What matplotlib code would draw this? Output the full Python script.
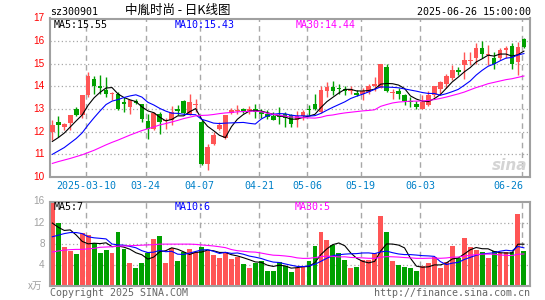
import matplotlib
matplotlib.use("Agg")
import matplotlib.pyplot as plt
import numpy as np

W, H = 545, 300

# daily candles, 2025-02-26 .. 2025-06-26
opens = [11.99, 12.43, 12.21, 12.38, 12.99, 12.72, 13.60, 14.31, 14.04, 13.85,
         13.68, 13.65, 13.31, 13.09, 13.35, 13.21, 12.47, 12.13, 12.79, 12.47,
         12.50, 13.01, 13.34, 12.76, 13.18, 12.43, 10.59, 11.44, 12.13, 11.74,
         12.82, 12.93, 12.99, 12.90, 12.99, 12.88, 12.79, 12.68, 12.72, 12.79,
         12.72, 12.53, 12.68, 13.00, 13.24, 12.87, 13.82, 13.97, 13.94, 13.90,
         13.82, 13.72, 13.68, 13.75, 14.04, 13.94, 14.88, 13.71, 13.82, 13.60,
         13.35, 13.21, 13.01, 13.16, 13.60, 13.90, 14.12, 14.38, 14.72, 14.94,
         15.13, 15.24, 15.71, 15.40, 15.26, 15.24, 15.63, 15.79, 15.06, 16.09]
highs = [12.53, 12.68, 12.40, 12.76, 13.09, 13.60, 14.63, 14.46, 14.49, 14.41,
         13.75, 13.75, 13.53, 13.41, 13.46, 13.24, 12.79, 12.87, 12.87, 12.62,
         13.12, 13.16, 13.41, 13.68, 13.46, 12.50, 11.47, 11.99, 12.43, 12.72,
         13.06, 13.16, 13.06, 13.12, 13.21, 13.00, 12.94, 12.87, 13.09, 12.87,
         12.79, 12.90, 12.94, 13.16, 13.68, 14.00, 14.19, 14.22, 14.12, 14.04,
         14.00, 13.85, 13.94, 14.12, 14.41, 15.00, 15.00, 13.90, 13.94, 13.65,
         13.53, 13.35, 13.60, 13.79, 14.04, 14.26, 14.57, 14.94, 14.87, 15.53,
         15.53, 15.94, 16.00, 15.82, 15.50, 15.68, 15.79, 15.90, 15.97, 16.15]
lows = [11.62, 11.76, 12.06, 12.06, 12.68, 12.62, 13.53, 13.65, 13.68, 13.53,
        13.38, 12.94, 12.87, 12.79, 13.24, 12.43, 11.69, 12.06, 11.91, 12.13,
        12.28, 12.72, 12.79, 12.72, 12.87, 10.51, 10.32, 11.40, 12.09, 11.69,
        12.79, 12.79, 12.82, 12.79, 12.62, 12.62, 12.57, 12.50, 12.35, 12.21,
        12.21, 12.21, 12.50, 12.72, 12.94, 12.82, 13.53, 13.60, 13.68, 13.63,
        13.68, 13.56, 13.38, 13.68, 13.82, 13.94, 13.75, 13.46, 13.46, 13.16,
        13.09, 13.01, 13.01, 13.12, 13.53, 13.60, 13.91, 14.28, 14.50, 14.35,
        14.94, 15.01, 15.24, 14.94, 14.76, 15.16, 15.26, 14.79, 14.50, 15.68]
closes = [12.28, 12.31, 12.35, 12.72, 12.72, 13.60, 14.44, 14.01, 13.93, 13.68,
          13.71, 13.01, 13.24, 13.41, 13.29, 12.57, 12.10, 12.82, 12.43, 12.50,
          12.87, 12.90, 12.82, 13.31, 13.21, 10.56, 11.32, 11.84, 12.28, 12.72,
          12.94, 12.97, 12.90, 13.00, 12.87, 12.79, 12.65, 12.53, 12.65, 12.62,
          12.32, 12.68, 12.87, 12.96, 13.01, 13.85, 13.97, 13.82, 13.90, 13.79,
          13.85, 13.63, 13.82, 14.00, 14.09, 14.97, 13.79, 13.75, 13.68, 13.35,
          13.31, 13.09, 13.31, 13.60, 14.00, 14.19, 14.48, 14.72, 14.65, 15.16,
          15.16, 15.71, 15.43, 15.43, 14.97, 15.63, 15.68, 14.97, 15.75, 15.75]

ma5 = [11.57, 11.74, 11.94, 12.21, 12.48, 12.74, 13.17, 13.50, 13.74, 13.93,
       13.95, 13.67, 13.51, 13.41, 13.33, 13.10, 12.92, 12.84, 12.64, 12.48,
       12.54, 12.70, 12.70, 12.88, 13.02, 12.56, 12.24, 12.05, 11.84, 11.74,
       12.22, 12.55, 12.76, 12.91, 12.94, 12.91, 12.84, 12.77, 12.70, 12.65,
       12.55, 12.56, 12.63, 12.69, 12.77, 13.07, 13.33, 13.52, 13.71, 13.87,
       13.87, 13.80, 13.80, 13.82, 13.88, 14.10, 14.13, 14.12, 14.06, 13.91,
       13.58, 13.44, 13.35, 13.33, 13.46, 13.64, 13.92, 14.20, 14.41, 14.64,
       14.83, 15.08, 15.22, 15.38, 15.34, 15.43, 15.43, 15.34, 15.40, 15.56]
ma10 = [11.00, 11.15, 11.30, 11.50, 11.70, 11.95, 12.30, 12.62, 12.92, 13.20,
        13.35, 13.42, 13.51, 13.58, 13.63, 13.53, 13.30, 13.18, 13.03, 12.91,
        12.82, 12.81, 12.77, 12.76, 12.75, 12.55, 12.47, 12.38, 12.36, 12.38,
        12.39, 12.40, 12.41, 12.37, 12.34, 12.56, 12.70, 12.77, 12.80, 12.79,
        12.73, 12.70, 12.70, 12.69, 12.71, 12.81, 12.95, 13.08, 13.20, 13.32,
        13.47, 13.57, 13.66, 13.76, 13.87, 13.98, 13.97, 13.96, 13.94, 13.89,
        13.84, 13.79, 13.73, 13.69, 13.69, 13.61, 13.68, 13.77, 13.87, 14.05,
        14.24, 14.50, 14.71, 14.89, 14.99, 15.13, 15.25, 15.28, 15.39, 15.45]
ma30 = [10.60, 10.68, 10.75, 10.82, 10.90, 10.98, 11.08, 11.18, 11.30, 11.42,
        11.53, 11.63, 11.74, 11.85, 11.95, 12.05, 12.13, 12.21, 12.30, 12.36,
        12.43, 12.50, 12.58, 12.64, 12.70, 12.72, 12.73, 12.76, 12.80, 12.83,
        12.85, 12.88, 12.89, 12.90, 12.91, 12.88, 12.82, 12.77, 12.73, 12.69,
        12.65, 12.64, 12.62, 12.61, 12.60, 12.64, 12.71, 12.74, 12.79, 12.83,
        12.86, 12.89, 12.92, 12.94, 12.97, 13.12, 13.20, 13.27, 13.31, 13.33,
        13.35, 13.35, 13.36, 13.38, 13.42, 13.47, 13.53, 13.60, 13.67, 13.75,
        13.85, 13.95, 14.03, 14.12, 14.18, 14.24, 14.30, 14.34, 14.40, 14.46]

# volume, in 10k lots
volumes = [16.0, 12.0, 7.43, 6.67, 6.03, 9.97, 9.65, 8.06, 6.29, 6.79,
           6.29, 10.29, 6.92, 4.38, 3.43, 4.38, 6.16, 8.89, 9.46, 4.38,
           7.11, 4.76, 6.48, 6.92, 6.48, 7.30, 6.67, 5.84, 5.33, 6.48,
           5.14, 5.52, 4.13, 3.43, 4.38, 4.76, 2.86, 2.86, 4.57, 3.75,
           2.67, 3.30, 3.75, 4.76, 7.56, 10.29, 8.70, 7.75, 6.29, 4.89,
           3.43, 3.62, 4.89, 4.89, 6.29, 13.33, 10.29, 4.76, 3.94, 3.62,
           3.43, 2.79, 3.75, 4.38, 5.40, 3.43, 4.57, 7.62, 5.33, 9.14,
           7.43, 6.79, 6.48, 5.21, 6.60, 6.29, 6.48, 6.48, 13.59, 6.60]
vma5 = [11.9, 11.1, 10.5, 10.6, 9.63, 8.42, 7.95, 8.08, 8.00, 8.15,
        7.42, 7.54, 7.32, 6.93, 6.26, 5.88, 5.05, 5.45, 6.46, 6.65,
        7.20, 6.92, 6.44, 5.93, 6.35, 6.39, 6.77, 6.64, 6.32, 6.32,
        5.89, 5.66, 5.32, 4.94, 4.52, 4.44, 3.91, 3.66, 3.89, 3.76,
        3.34, 3.43, 3.61, 3.65, 4.41, 5.93, 7.01, 7.81, 8.12, 7.58,
        6.21, 5.20, 4.62, 4.34, 4.62, 6.60, 7.94, 7.91, 7.72, 7.19,
        5.21, 3.71, 3.51, 3.59, 3.95, 3.95, 4.31, 5.08, 5.27, 6.02,
        6.82, 7.26, 7.03, 7.01, 6.50, 6.27, 6.21, 6.21, 7.89, 7.89]
vma10 = [9.3, 9.6, 9.9, 10.1, 10.1, 9.9, 9.3, 9.1, 9.0, 8.89,
         7.92, 7.75, 7.70, 7.47, 7.21, 6.65, 6.30, 6.38, 6.70, 6.46,
         6.54, 5.99, 5.94, 6.20, 6.50, 6.79, 6.85, 6.54, 6.13, 6.34,
         6.14, 6.22, 5.98, 5.63, 5.42, 5.17, 4.79, 4.49, 4.41, 4.14,
         3.89, 3.67, 3.63, 3.77, 4.08, 4.64, 5.22, 5.71, 5.88, 6.00,
         6.07, 6.10, 6.22, 6.23, 6.10, 6.41, 6.57, 6.27, 6.03, 5.91,
         5.91, 5.82, 5.71, 5.66, 5.57, 4.58, 4.01, 4.29, 4.43, 4.98,
         5.38, 5.78, 6.06, 6.14, 6.26, 6.55, 6.74, 6.62, 7.45, 7.20]
vma30 = [6.4, 6.6, 6.75, 6.85, 6.9, 6.9, 7.0, 7.1, 7.3, 7.35,
         7.4, 7.5, 7.55, 7.6, 7.65, 7.7, 7.75, 7.8, 7.9, 7.9,
         7.9, 7.9, 7.9, 7.9, 7.85, 7.75, 7.65, 7.55, 7.4, 7.23,
         6.87, 6.65, 6.54, 6.43, 6.38, 6.20, 5.98, 5.80, 5.75, 5.65,
         5.52, 5.29, 5.19, 5.20, 5.34, 5.53, 5.62, 5.58, 5.47, 5.49,
         5.37, 5.33, 5.28, 5.21, 5.20, 5.40, 5.53, 5.49, 5.44, 5.35,
         5.29, 5.20, 5.19, 5.22, 5.25, 5.21, 5.27, 5.42, 5.45, 5.63,
         5.79, 5.90, 5.99, 6.01, 5.98, 5.84, 5.77, 5.73, 5.97, 6.03]

date_labels = ["2025-03-10", "03-24", "04-07", "04-21", "05-06", "05-19", "06-03", "06-26"]
date_index = [6, 16, 25, 35, 43, 52, 62, 79]
price_ticks = [10, 11, 12, 13, 14, 15, 16, 17]
vol_ticks = [4, 8, 12, 16]

RED = "#ff5555"
GREEN = "#00a000"
GRID = "#a8a8a8"
FRAME = "#a0a0a0"
MONO = "DejaVu Sans Mono"


def box(left, top, right, bottom):
    """pixel box -> figure rect"""
    return [left / W, 1 - bottom / H, (right - left) / W, (bottom - top) / H]


def px(x, y):
    return x / W, 1 - y / H


def style_frame(a):
    a.set_xticks([])
    a.set_yticks([])
    for s in a.spines.values():
        s.set_color(FRAME)
        s.set_linewidth(1.5)


fig = plt.figure(figsize=(W / 100, H / 100), dpi=100)
ax = fig.add_axes(box(50, 18.5, 530, 177))
axv = fig.add_axes(box(50, 201.5, 530, 285.7))

x = np.arange(len(closes))
o = np.array(opens)
c = np.array(closes)
colors = [RED if cc >= oo else GREEN for oo, cc in zip(opens, closes)]
xlim = (-0.39, 80.02)

# ---- price panel
ax.set_xlim(*xlim)
ax.set_ylim(price_ticks[0], price_ticks[-1])
style_frame(ax)
for v in price_ticks[1:-1]:
    ax.axhline(v, color=GRID, lw=0.9, ls=(0, (1, 2)), zorder=0)
for i in date_index:
    ax.axvline(i - 0.33, color=GRID, lw=1.0, ls=(0, (4, 3)), zorder=0)

ax.vlines(x, lows, highs, colors=colors, lw=1.0, zorder=2)
body_lo = np.minimum(o, c)
body_h = np.maximum(np.abs(c - o), 0.045)
ax.bar(x, body_h, width=0.78, bottom=body_lo, color=colors, lw=0, zorder=3)

ax.plot(x, ma5, color="black", lw=0.8, zorder=4)
ax.plot(x, ma10, color="#0000ff", lw=0.8, zorder=4)
ax.plot(x, ma30, color="#ff00ff", lw=0.8, zorder=4)

ytr = ax.get_yaxis_transform()
for v in price_ticks:
    ax.text(-0.011, v, str(v), transform=ytr, ha="right", va="center",
            color="red", fontsize=7.2, family="Liberation Sans")

xtr = ax.get_xaxis_transform()
for lab, i in zip(date_labels, date_index):
    if i == date_index[-1]:
        ax.text(i - 0.06, -0.057, lab, transform=xtr, ha="right", va="center",
                color="#0080c8", fontsize=7.2, family=MONO)
    else:
        ax.text(i - 0.33, -0.057, lab, transform=xtr, ha="center", va="center",
                color="#0080c8", fontsize=7.2, family=MONO)

# sina watermark
ax.text(0.995, 0.075, "sina", transform=ax.transAxes, ha="right", va="center",
        color="#d4d4d4", fontsize=11, fontweight="bold", style="italic", zorder=1)

# ---- volume panel
axv.set_xlim(*xlim)
axv.set_ylim(0, vol_ticks[-1])
style_frame(axv)
for v in vol_ticks[:-1]:
    axv.axhline(v, color=GRID, lw=0.9, ls=(0, (1, 2)), zorder=0)
for i in date_index:
    axv.axvline(i - 0.33, color=GRID, lw=1.0, ls=(0, (4, 3)), zorder=0)

axv.bar(x, volumes, width=0.82, color=colors, lw=0, zorder=2)
axv.plot(x, vma5, color="black", lw=0.8, zorder=4)
axv.plot(x, vma10, color="#0000ff", lw=0.8, zorder=4)
axv.plot(x, vma30, color="#ff00ff", lw=0.8, zorder=4)

vtr = axv.get_yaxis_transform()
for v in vol_ticks:
    axv.text(-0.011, v, str(v), transform=vtr, ha="right", va="center",
             color="#a0a0a0", fontsize=7.2, family="Liberation Sans")
fig.text(*px(28, 286), "x万", ha="left", va="center", color="#a0a0a0",
         fontsize=7, family=["Noto Sans CJK SC", "DejaVu Sans"])

# ---- texts
fig.text(*px(50, 12), "sz300901", ha="left", va="center", fontsize=7.2, family=MONO)
fig.text(*px(178, 10.5), "中胤时尚 - 日K线图", ha="center", va="center", fontsize=9,
         family=["Noto Sans CJK SC", "DejaVu Sans"])
fig.text(*px(531, 12), "2025-06-26 15:00:00", ha="right", va="center", fontsize=7.2,
         family=MONO)

fig.text(*px(54, 24.5), "MA5:15.55", ha="left", va="center",
         fontsize=7.2, family=MONO, color="black")
fig.text(*px(175, 24.5), "MA10:15.43", ha="left", va="center",
         fontsize=7.2, family=MONO, color="#0000ff")
fig.text(*px(296, 24.5), "MA30:14.44", ha="left", va="center",
         fontsize=7.2, family=MONO, color="#ff00ff")

fig.text(*px(54, 206.5), "MA5:7", ha="left", va="center", fontsize=7.2, family=MONO,
         color="black")
fig.text(*px(175, 206.5), "MA10:6", ha="left", va="center", fontsize=7.2, family=MONO,
         color="#0000ff")
fig.text(*px(295, 206.5), "MA30:5", ha="left", va="center", fontsize=7.2, family=MONO,
         color="#ff00ff")

fig.text(*px(50, 292.5), "Copyright 2025 SINA.COM", ha="left", va="center",
         fontsize=7.2, family=MONO, color="#666666")
fig.text(*px(530, 292.5), "http://finance.sina.com.cn", ha="right", va="center",
         fontsize=7.2, family=MONO, color="#666666")

fig.savefig("out.png", dpi=100)
